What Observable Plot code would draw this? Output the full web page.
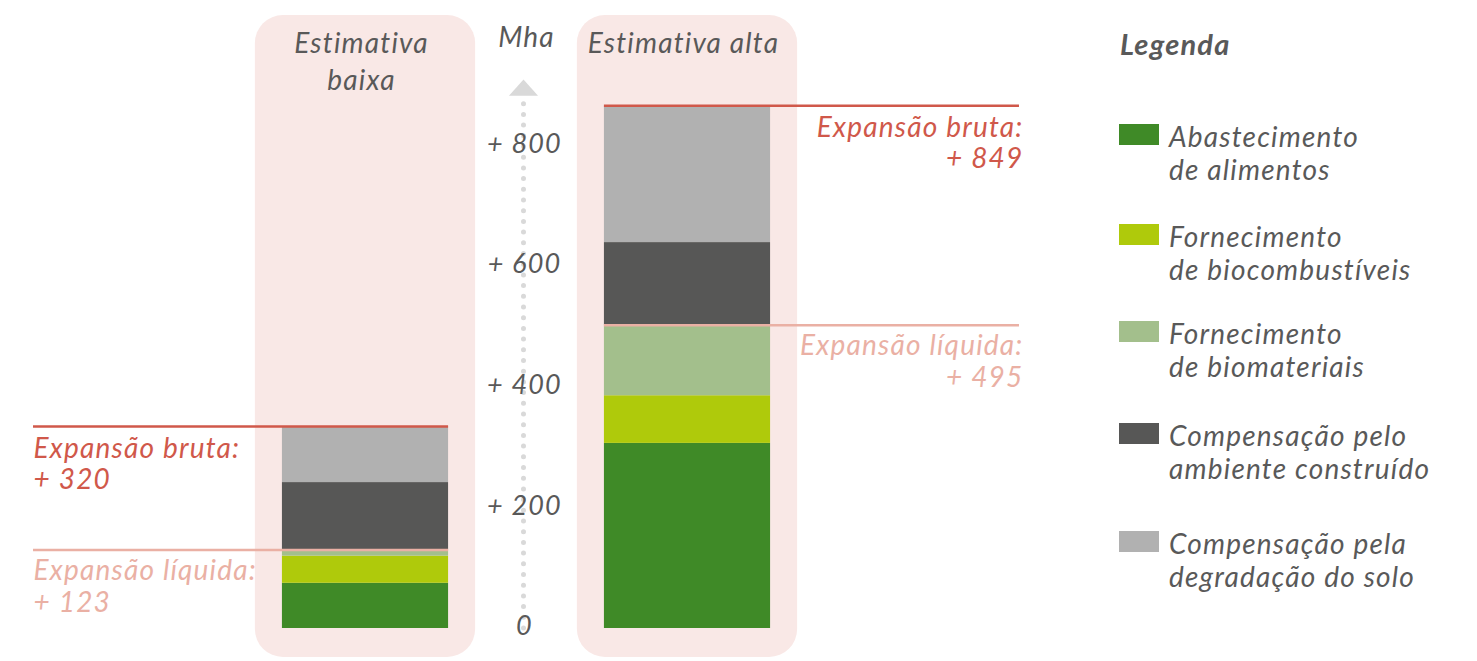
<!DOCTYPE html>
<html>
<head>
<meta charset="utf-8">
<script src="https://cdn.jsdelivr.net/npm/d3@7"></script>
<script src="https://cdn.jsdelivr.net/npm/@observablehq/plot@0.6"></script>
<style>
  html, body { margin: 0; padding: 0; background: #fff; }
  #wrap { position: relative; width: 1477px; height: 661px; overflow: hidden; font-family: Lato, "Open Sans", sans-serif; }
  #legend { position: absolute; left: 0; top: 0; width: 1477px; height: 661px; pointer-events: none; }
  .lg-title { position: absolute; left: 1120px; top: 26px; font-size: 29px; font-weight: 700; font-style: italic; color: #595959; letter-spacing: 1.2px; }
  .lg-item { position: absolute; left: 1119px; }
  .lg-sw { position: absolute; left: 0; top: 0; width: 40px; height: 21px; }
  .lg-tx { position: absolute; left: 50px; top: -4px; font-size: 28px; font-style: italic; color: #595959; line-height: 33px; white-space: nowrap; letter-spacing: 1.2px; }
</style>
</head>
<body>
<div id="wrap"><div id="chart"></div><div id="legend"></div></div>
<script>
// ---- data ----
const estimates = ["Estimativa baixa", "Estimativa alta"];
const estimateLabels = ["Estimativa\nbaixa", "Estimativa alta"];
const categories = [
  "Abastecimento de alimentos",
  "Fornecimento de biocombustíveis",
  "Fornecimento de biomateriais",
  "Compensação pelo ambiente construído",
  "Compensação pela degradação do solo"
];
const categoryLines = [
  ["Abastecimento", "de alimentos"],
  ["Fornecimento", "de biocombustíveis"],
  ["Fornecimento", "de biomateriais"],
  ["Compensação pelo", "ambiente construído"],
  ["Compensação pela", "degradação do solo"]
];
const colors = ["#3f8a27", "#afca0b", "#a3bf8c", "#575756", "#b1b1b1"];
const lowValues = [75, 45, 10, 112, 93];    // Mha
const highValues = [307, 79, 117, 137, 227];
const grossLabels = ["+ 320", "+ 849"];
const netLabels = ["+ 123", "+ 495"];
const yTicks = [0, 200, 400, 600, 800];
const yTickLabels = ["0", "+ 200", "+ 400", "+ 600", "+ 800"];
const unitLabel = "Mha";
const axisTop = 877;
const grossTitle = "Expansão bruta:";
const netTitle = "Expansão líquida:";
const legendTitle = "Legenda";

// ---- build tables ----
const seriesValues = [lowValues, highValues];
const segments = [];
seriesValues.forEach((vals, i) => {
  let acc = 0;
  vals.forEach((v, j) => {
    segments.push({est: i, cat: categories[j], y1: acc, y2: acc + v});
    acc += v;
  });
});
const totals = seriesValues.map((vals, i) => ({
  est: i,
  gross: d3.sum(vals),
  net: d3.sum(vals.slice(0, 3)),
  side: i === 0 ? -1 : 1,
  grossText: grossTitle + "\n" + grossLabels[i],
  netText: netTitle + "\n" + netLabels[i]
}));
const leftTotals = totals.filter(d => d.side < 0);
const rightTotals = totals.filter(d => d.side > 0);

const half = 0.258;   // half bar width in x units
const ext = 0.773;    // line extension beyond the bar
const panelHalf = 0.342;
const lineStart = d => d.side < 0 ? d.est - half - ext : d.est - half;
const lineEnd = d => d.side < 0 ? d.est + half : d.est + half + ext;

const font = "Lato, 'Open Sans', sans-serif";
const grey = "#595959";
const red = "#d0584a";
const salmon = "#eab0a4";

const triangle = {
  draw(ctx, size) {
    const w = Math.sqrt(size);
    ctx.moveTo(0, -w * 0.28);
    ctx.lineTo(w / 2, w * 0.28);
    ctx.lineTo(-w / 2, w * 0.28);
    ctx.closePath();
  }
};

const estRows = estimates.map((e, i) => ({est: i, label: estimateLabels[i]}));
const tickRows = yTicks.map((t, i) => ({v: t, label: yTickLabels[i]}));

const annot = (rows, anchor, xf, dx) => [
  Plot.text(rows, {x: xf, y: "gross", text: "grossText", textAnchor: anchor, lineAnchor: "top", dy: 9, dx, lineHeight: 1.12, fontSize: 28, fontStyle: "italic", fill: red}),
  Plot.text(rows, {x: xf, y: "net", text: "netText", textAnchor: anchor, lineAnchor: "top", dy: 8, dx, lineHeight: 1.12, fontSize: 28, fontStyle: "italic", fill: salmon})
];

const plot = Plot.plot({
  width: 1477,
  height: 661,
  margin: 0,
  style: {fontFamily: font, background: "transparent", letterSpacing: "1.2px"},
  x: {domain: [0, 1], range: [365, 687], axis: null},
  y: {domain: [0, 800], range: [628, 145.6], axis: null},
  color: {domain: categories, range: colors},
  marks: [
    Plot.rect(estRows, {x1: d => d.est - panelHalf, x2: d => d.est + panelHalf, insetTop: 15, insetBottom: 4, fill: "#f9e8e6", rx: 28}),
    Plot.ruleX([0.5], {y1: 0, y2: axisTop, stroke: "#d9d9d9", strokeWidth: 5, strokeDasharray: "0 10.7", strokeLinecap: "round", dx: -3}),
    Plot.dot([0.5], {x: d => d, y: axisTop + 20, r: 16.4, symbol: triangle, fill: "#d9d9d9", stroke: null, dx: -3}),
    Plot.rect(segments, {x1: d => d.est - half, x2: d => d.est + half, y1: "y1", y2: "y2", fill: "cat"}),
    Plot.ruleY(totals, {y: "net", x1: lineStart, x2: lineEnd, stroke: salmon, strokeWidth: 2.5}),
    Plot.ruleY(totals, {y: "gross", x1: lineStart, x2: lineEnd, stroke: red, strokeWidth: 2.5}),
    ...annot(leftTotals, "start", lineStart, 0),
    ...annot(rightTotals, "end", lineEnd, 4),
    Plot.text(tickRows, {x: () => 0.5, y: "v", text: "label", fontSize: 27, fontStyle: "italic", fill: grey, dx: -2, dy: -2}),
    Plot.text(estRows, {x: "est", text: "label", frameAnchor: "top", lineAnchor: "top", dy: 27, lineHeight: 1.3, fontSize: 28, fontStyle: "italic", fill: grey, dx: -4}),
    Plot.text([unitLabel], {x: () => 0.5, text: d => d, frameAnchor: "top", lineAnchor: "top", dy: 27, fontSize: 28, fontStyle: "italic", fill: grey})
  ]
});
document.getElementById("chart").appendChild(plot);

// ---- legend (HTML) ----
const lg = document.getElementById("legend");
const t = document.createElement("div");
t.className = "lg-title";
t.textContent = legendTitle;
lg.appendChild(t);
const tops = [124, 224, 321, 423, 531];
categories.forEach((c, i) => {
  const it = document.createElement("div");
  it.className = "lg-item";
  it.style.top = tops[i] + "px";
  const sw = document.createElement("div");
  sw.className = "lg-sw";
  sw.style.background = colors[i];
  const tx = document.createElement("div");
  tx.className = "lg-tx";
  tx.innerHTML = categoryLines[i].join("<br>");
  it.appendChild(sw);
  it.appendChild(tx);
  lg.appendChild(it);
});
</script>
</body>
</html>
